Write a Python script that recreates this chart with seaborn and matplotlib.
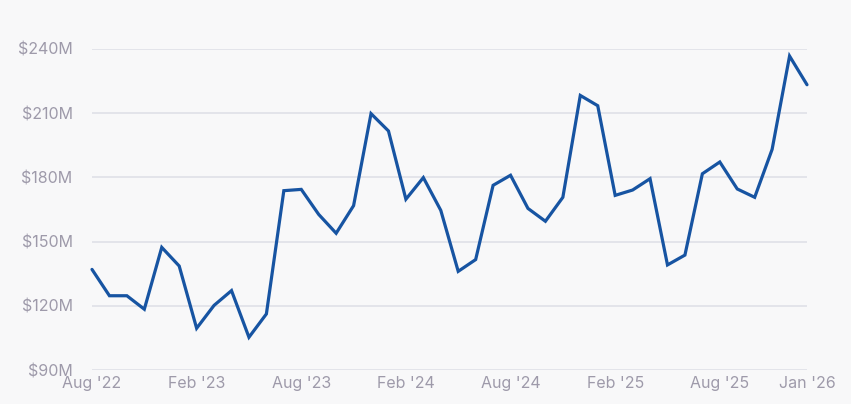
import matplotlib
matplotlib.use("Agg")
import matplotlib.pyplot as plt
import seaborn as sns
import pandas as pd
from matplotlib.ticker import FuncFormatter

months = pd.date_range("2022-08-01", "2026-01-01", freq="MS")
revenue_m = [137.0, 124.7, 124.7, 118.4, 147.3, 138.6, 109.5, 120.2, 127.1, 105.3,
             116.2, 173.8, 174.4, 162.7, 153.9, 166.8, 209.8, 201.7, 169.8, 179.9,
             164.6, 136.1, 141.6, 176.3, 181.0, 165.5, 159.5, 170.7, 218.3, 213.5,
             171.6, 174.1, 179.4, 139.1, 143.7, 181.7, 187.2, 174.6, 170.7, 193.1,
             236.7, 223.3]
y_ticks = [90, 120, 150, 180, 210, 240]
x_tick_idx = [0, 6, 12, 18, 24, 30, 36, 41]
x_tick_labels = ["Aug '22", "Feb '23", "Aug '23", "Feb '24", "Aug '24", "Feb '25", "Aug '25", "Jan '26"]

df = pd.DataFrame({"idx": range(len(revenue_m)), "month": months, "revenue": revenue_m})

sns.set_theme(style="white")
plt.rcParams['font.family'] = ['Inter', 'DejaVu Sans']

bg = "#f8f8f9"
text_c = "#9e9aaa"
grid_c = "#dfe0e7"
line_c = "#1754a2"

fig = plt.figure(figsize=(8.51, 4.04), dpi=100, facecolor=bg)
ax = fig.add_axes([92/851, 1 - 370/404, (807 - 92)/851, (370 - 49)/404])
ax.set_facecolor(bg)

sns.lineplot(data=df, x="idx", y="revenue", ax=ax, color=line_c, linewidth=2.3)
for ln in ax.lines:
    ln.set_clip_on(False)
    ln.set_solid_joinstyle("miter")

ax.set_xlim(0, len(revenue_m) - 1)
ax.set_ylim(90, 240)
ax.set_yticks(y_ticks)
ax.yaxis.set_major_formatter(FuncFormatter(lambda v, p: f"${int(v)}M"))
ax.set_xticks(x_tick_idx)
ax.set_xticklabels(x_tick_labels)
ax.grid(axis="y", color=grid_c, linewidth=1.2)
ax.set_axisbelow(True)
for s in ax.spines.values():
    s.set_visible(False)
ax.tick_params(axis="both", length=0, labelsize=11.5, colors=text_c)
ax.tick_params(axis="y", pad=14)
ax.tick_params(axis="x", pad=4)
ax.set_xlabel("")
ax.set_ylabel("")

fig.savefig("out.png", dpi=100, facecolor=bg)
